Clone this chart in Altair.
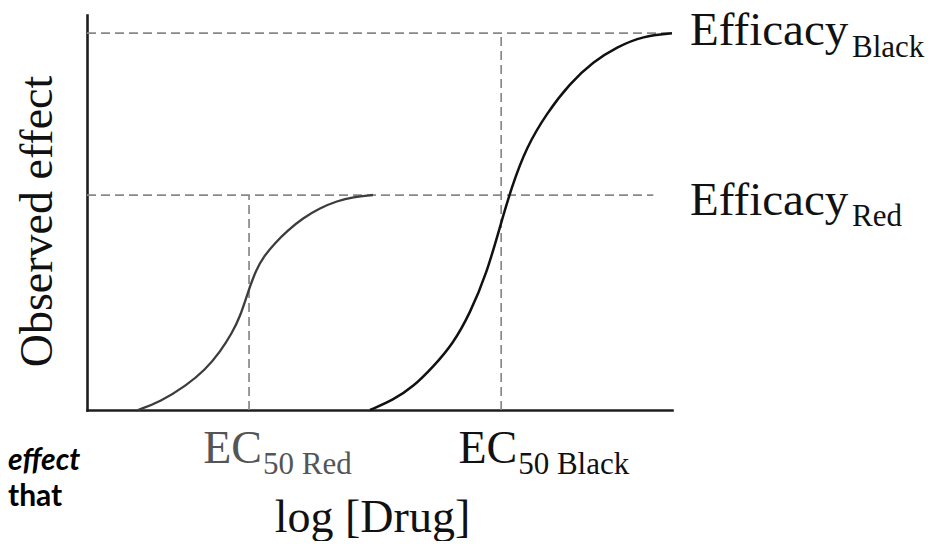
import altair as alt
import pandas as pd

# ---- data (x: 0..100 log-dose units, y: 0..100 % effect)
red_x = [8.72, 12.48, 17.09, 20.17, 22.74, 24.79, 26.15, 27.52, 28.89, 30.26, 32.14, 34.19, 36.92, 39.83, 42.74, 45.47, 48.89]
red_y = [0, 2.03, 6.33, 10.13, 14.68, 19.49, 23.54, 29.87, 35.44, 38.99, 42.28, 45.32, 48.61, 51.14, 52.91, 53.92, 54.43]
black_x = [48.38, 52.36, 55.78, 59.20, 62.62, 65.47, 68.33, 70.60, 72.60, 75.16, 78.58, 82.56, 86.55, 90.55, 95.09, 100]
black_y = [0, 2.53, 5.90, 10.96, 16.89, 24.48, 34.61, 46.41, 56.53, 66.66, 75.11, 82.71, 88.18, 91.90, 94.68, 95.37]

efficacy_red = 54.4
efficacy_black = 95.4
ec50_red = 27.7
ec50_black = 70.8

SERIF = "Liberation Serif"

red_df = pd.DataFrame({"x": red_x, "y": red_y})
black_df = pd.DataFrame({"x": black_x, "y": black_y})
guides_df = pd.DataFrame({
    "x": [0, 0, ec50_red, ec50_black],
    "x2": [100, 96.8, ec50_red, ec50_black],
    "y": [efficacy_black, efficacy_red, 0, 0],
    "y2": [efficacy_black, efficacy_red, efficacy_red, efficacy_black],
})

x_axis = alt.Axis(title="log [Drug]", domain=True, ticks=False, labels=False, grid=False,
                  domainColor="#1e1e1e", domainWidth=2.6, domainCap="square",
                  titleFont=SERIF, titleFontSize=46, titleFontWeight="normal", titleColor="#111",
                  titleX=285, titleY=121, titleBaseline="alphabetic", titleAlign="center", titleAngle=0)
y_axis = alt.Axis(title="Observed effect", domain=True, ticks=False, labels=False, grid=False,
                  domainColor="#1e1e1e", domainWidth=2.6, domainCap="square",
                  titleFont=SERIF, titleFontSize=46, titleFontWeight="normal", titleColor="#111",
                  titleX=-36, titleY=206, titleBaseline="alphabetic", titleAlign="center", titleAngle=270)

xs = alt.Scale(domain=[0, 100], nice=False, zero=False)
ys = alt.Scale(domain=[0, 100], nice=False, zero=False)

def X(f="x"):
    return alt.X(f"{f}:Q", scale=xs, axis=x_axis)

def Y(f="y"):
    return alt.Y(f"{f}:Q", scale=ys, axis=y_axis)

guides = alt.Chart(guides_df).mark_rule(strokeDash=[9, 5], color="#888888", strokeWidth=1.7).encode(
    x=X(), x2="x2:Q", y=Y(), y2="y2:Q")

red_line = alt.Chart(red_df).mark_line(color="#3c3c3c", strokeWidth=2.3, interpolate="basis").encode(
    x=X(), y=Y())
black_line = alt.Chart(black_df).mark_line(color="#111111", strokeWidth=2.5, interpolate="basis").encode(
    x=X(), y=Y())

layers = [guides, red_line, black_line]

# EC50 labels anchored on the x scale
ec_labels = [
    (ec50_red, "EC", "50 Red", "#555555", 13),
    (ec50_black, "EC", "50 Black", "#111111", 16),
]
for xv, main, sub, col, dx in ec_labels:
    d = pd.DataFrame({"x": [xv], "t": [main], "s": [sub]})
    layers.append(alt.Chart(d).mark_text(font=SERIF, fontSize=46, align="right", baseline="alphabetic",
                                         dx=dx, color=col).encode(x=X(), y=alt.value(448), text="t:N"))
    layers.append(alt.Chart(d).mark_text(font=SERIF, fontSize=31, align="left", baseline="alphabetic",
                                         dx=dx + 1, color=col).encode(x=X(), y=alt.value(459), text="s:N"))

# Efficacy labels anchored on the y scale
eff_labels = [
    (efficacy_black, "Efficacy", "Black", 12, 24),
    (efficacy_red, "Efficacy", "Red", 20, 31),
]
for yv, main, sub, dy_main, dy_sub in eff_labels:
    d = pd.DataFrame({"y": [yv], "t": [main], "s": [sub]})
    layers.append(alt.Chart(d).mark_text(font=SERIF, fontSize=47, align="left", baseline="alphabetic",
                                         dy=dy_main, color="#111").encode(x=alt.value(603), y=Y(), text="t:N"))
    layers.append(alt.Chart(d).mark_text(font=SERIF, fontSize=31, align="left", baseline="alphabetic",
                                         dy=dy_sub, color="#111").encode(x=alt.value(765), y=Y(), text="s:N"))

# cropped page text at bottom left
side_df = pd.DataFrame({"t": ["effect", "that"]})
layers.append(alt.Chart(side_df.iloc[[0]]).mark_text(font="Lato", fontSize=30, fontWeight="bold",
                                                      fontStyle="italic", align="left", baseline="alphabetic",
                                                      color="#000").encode(
    x=alt.value(-79), y=alt.value(455), text="t:N"))
layers.append(alt.Chart(side_df.iloc[[1]]).mark_text(font="Lato", fontSize=30, fontWeight="bold",
                                                      align="left", baseline="alphabetic",
                                                      color="#000").encode(
    x=alt.value(-79), y=alt.value(491), text="t:N"))

chart = alt.layer(*layers).properties(
    width=585, height=395,
    autosize=alt.AutoSizeParams(type="none"),
    padding={"left": 79, "top": 7, "right": 256, "bottom": 131},
    background="white",
).configure_view(stroke=None)

chart.save("out.html", embed_options={"renderer": "svg", "actions": False})
